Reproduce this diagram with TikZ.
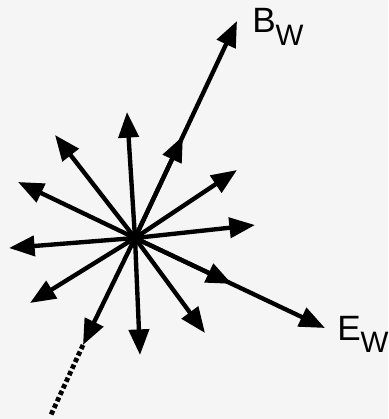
\documentclass[tikz,border=0pt]{standalone}
\usepackage{fontspec}
\setmainfont{Liberation Sans}
\usetikzlibrary{arrows.meta, calc}

\begin{document}
\begin{tikzpicture}[
  x=0.025cm, y=-0.025cm,
  >={Triangle[length=6.4mm, width=5mm]},
  %--- ray and tail styles ---
  ray/.style={->, line width=3.1pt},
  tail/.style={line width=3.4pt, dash pattern=on 1.1mm off 0.7mm},
  lbl/.style={anchor=base west, inner sep=0pt,
    font=\fontsize{25}{25}\selectfont}
]

%------------------------------------------------------------------
%  Background and frame
%------------------------------------------------------------------
\fill[black!4] (0,0) rectangle (388,419);
\useasboundingbox (0,0) rectangle (388,419);

%------------------------------------------------------------------
%  Vertex
%------------------------------------------------------------------
\coordinate (o) at (135,238);

%------------------------------------------------------------------
%  Plain rays
%------------------------------------------------------------------
\foreach \x/\y/\name in {127/112/up, 55/135/ul, 18/182/lu,
    9/248/lt, 30/303/ld, 83/345/dl, 140/355/dn,
    205/333/dr, 255/225/rt, 237/170/ru}
{
  \coordinate (\name) at (\x,\y);
  \draw[ray] (o) -- (\name);
}

%------------------------------------------------------------------
%  Long rays with a second head half-way
%------------------------------------------------------------------
\coordinate (btip) at (237,21);
\coordinate (bmid) at ($(o)!0.47!(btip)$);
\coordinate (etip) at (325,328);
\coordinate (emid) at ($(o)!0.51!(etip)$);

\draw[ray] (o) -- (btip);
\draw[ray] (o) -- (bmid);
\draw[ray] (o) -- (etip);
\draw[ray] (o) -- (emid);

%------------------------------------------------------------------
%  Dashed continuation
%------------------------------------------------------------------
\coordinate (tend) at (50,417);
\draw[tail] (dl) -- (tend);

\fill (o) circle (5);

%------------------------------------------------------------------
%  Labels
%------------------------------------------------------------------
\node[lbl] (blbl) at (252,33)
  {B\raisebox{-9pt}{\fontsize{21}{21}\selectfont W}};
\node[lbl] (elbl) at (337,340)
  {E\raisebox{-9pt}{\fontsize{21}{21}\selectfont W}};

\end{tikzpicture}
\end{document}
